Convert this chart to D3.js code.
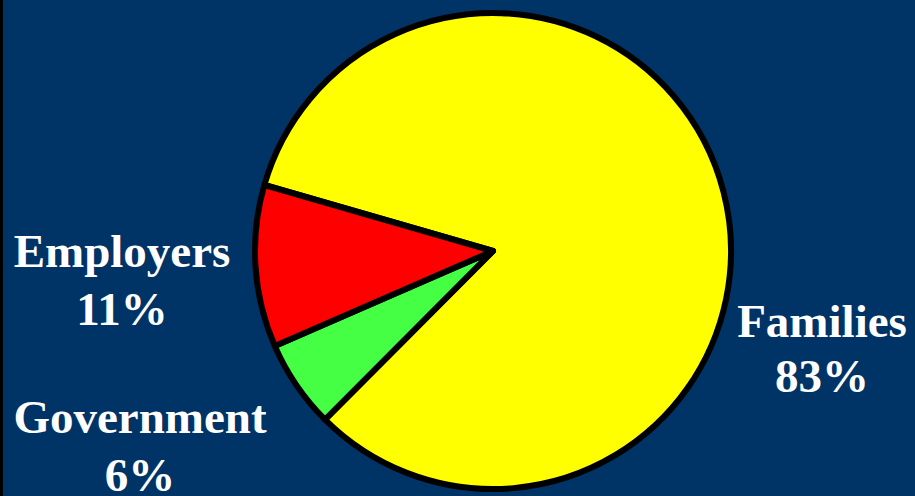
<!DOCTYPE html>
<html>
<head>
    <meta charset="utf-8">
    <title>Sources of funding</title>
    <script type="text/javascript" src="https://cdn.jsdelivr.net/npm/d3@7"></script>
    <style>
        html, body { margin: 0; padding: 0; background: #003366; }
        svg { display: block; }
    </style>
</head>

<body>

<script type="text/javascript">
    var categories = ["Families", "Government", "Employers"],
        shares = [83, 6, 11],
        colors = ["#ffff00", "#44ff44", "#ff0000"];

    var w = 915,
        h = 496,
        cx = 493,
        cy = 251,
        r = 238,
        startDeg = -73.9;

    var svg = d3.select("body").append("svg")
            .attr("width", w)
            .attr("height", h);

    svg.append("rect")
        .attr("width", w)
        .attr("height", h)
        .style("fill", "#003366");

    // thin dark edge on the left
    svg.append("rect")
        .attr("x", 0)
        .attr("y", 0)
        .attr("width", 3)
        .attr("height", h)
        .style("fill", "#000");

    var pie = d3.pie()
            .sort(null)
            .startAngle(startDeg * Math.PI / 180)
            .endAngle(startDeg * Math.PI / 180 + 2 * Math.PI);

    var arc = d3.arc()
            .innerRadius(0)
            .outerRadius(r);

    var slices = pie(shares);

    svg.append("g")
        .attr("transform", "translate(" + cx + "," + cy + ")")
      .selectAll("path")
        .data(slices)
      .enter().append("path")
        .attr("d", arc)
        .style("fill", function(d, i) { return colors[i]; })
        .style("stroke", "#000")
        .style("stroke-width", 6)
        .style("stroke-linejoin", "round");

    // label positions picked to sit beside each slice
    var labelPos = [
        {x: 822, y: 337},
        {x: 140, y: 433},
        {x: 122, y: 267}
    ];

    var labels = svg.append("g")
        .selectAll("text")
        .data(categories)
      .enter().append("text")
        .attr("x", function(d, i) { return labelPos[i].x; })
        .attr("y", function(d, i) { return labelPos[i].y; })
        .attr("text-anchor", "middle")
        .style("font-family", "'Liberation Serif', 'Times New Roman', serif")
        .style("font-weight", "bold")
        .style("font-size", "47px")
        .style("fill", "#fff");

    labels.append("tspan")
        .text(function(d) { return d; });

    labels.append("tspan")
        .attr("x", function(d, i) { return labelPos[i].x; })
        .attr("dy", function(d, i) { return i === 0 ? 55 : 58; })
        .text(function(d, i) { return shares[i] + "%"; });
</script>

</body>

</html>
